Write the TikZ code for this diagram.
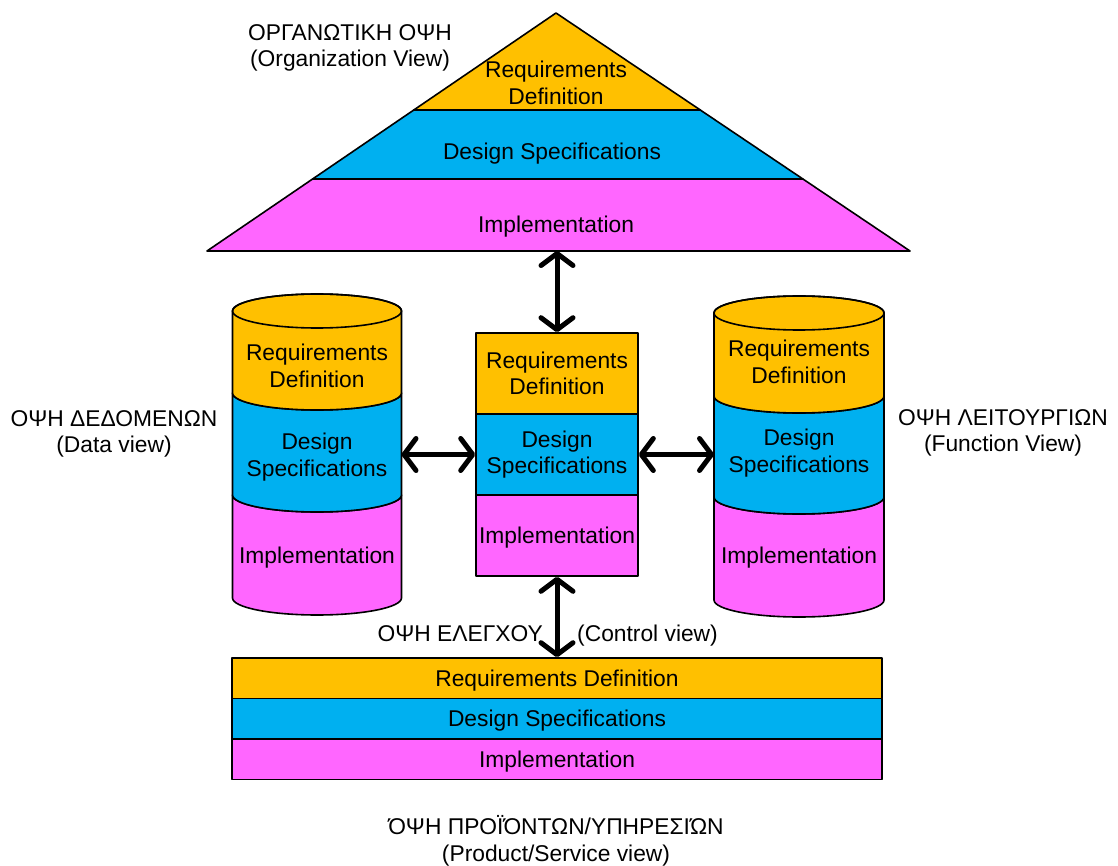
\documentclass[tikz,border=0pt]{standalone}
\usepackage{fontspec}
\setmainfont{Liberation Sans}
\usetikzlibrary{arrows.meta}
\definecolor{reqc}{HTML}{FFC000}
\definecolor{desc}{HTML}{00B0F0}
\definecolor{impc}{HTML}{FF66FF}

\begin{document}
\begin{tikzpicture}[x=1pt,y=-1pt,
  every node/.style={font=\fontsize{22.8}{26.5}\selectfont, align=center, inner sep=0pt},
  oneline/.style={text height=16pt, text depth=0pt},
  outline/.style={draw=black, line width=1.6pt, line join=round},
  bandbox/.style={outline, rectangle, minimum width=#1},
  barb/.tip={Straight Barb[length=12pt,width=32pt,line cap=round,line join=round]},
  link/.style={line width=5pt, line cap=round, barb-barb},
]
\useasboundingbox (0,0) rectangle (1118,866);

% ---- organization pyramid ----
\filldraw[outline, fill=impc] (312.6,179) -- (802.9,179) -- (910,251) -- (207,251) -- cycle;
\filldraw[outline, fill=desc] (413.8,110) -- (700.3,110) -- (802.9,179) -- (312.6,179) -- cycle;
\filldraw[outline, fill=reqc] (556,13) -- (700.3,110) -- (413.8,110) -- cycle;
\node (oReq) at (556,83) {Requirements\\Definition};
\node[oneline] (oDes) at (552,152) {Design Specifications};
\node[oneline] (oImp) at (556,225) {Implementation};
\coordinate (pyrBase) at (556,251);
\node (oLab) at (350,48) {ΟΡΓΑΝΩΤΙΚΗ ΟΨΗ\\(Organization View)};

% ---- data cylinder ----
\filldraw[outline, fill=impc] (232.5,495) -- (232.5,598)
  arc[start angle=180,end angle=0,x radius=84.5,y radius=17] -- (401.5,495)
  arc[start angle=0,end angle=180,x radius=84.5,y radius=17] -- cycle;
\filldraw[outline, fill=desc] (232.5,393) -- (232.5,495)
  arc[start angle=180,end angle=0,x radius=84.5,y radius=17] -- (401.5,393)
  arc[start angle=0,end angle=180,x radius=84.5,y radius=17] -- cycle;
\filldraw[outline, fill=reqc] (232.5,311) -- (232.5,393)
  arc[start angle=180,end angle=0,x radius=84.5,y radius=17] -- (401.5,311)
  arc[start angle=0,end angle=-180,x radius=84.5,y radius=17] -- cycle;
\draw[outline] (317,311) ellipse[x radius=84.5,y radius=17];
\node (dReq) at (317,366) {Requirements\\Definition};
\node (dDes) at (317,457) {Design\\Specifications};
\node[oneline] (dImp) at (317,555) {Implementation};
\coordinate (dataSide) at (401.5,455);
\node (dLab) at (114,434) {ΟΨΗ ΔΕΔΟΜΕΝΩΝ\\(Data view)};

% ---- function cylinder ----
\filldraw[outline, fill=impc] (714,497) -- (714,600)
  arc[start angle=180,end angle=0,x radius=85,y radius=17] -- (884,497)
  arc[start angle=0,end angle=180,x radius=85,y radius=17] -- cycle;
\filldraw[outline, fill=desc] (714,396) -- (714,497)
  arc[start angle=180,end angle=0,x radius=85,y radius=17] -- (884,396)
  arc[start angle=0,end angle=180,x radius=85,y radius=17] -- cycle;
\filldraw[outline, fill=reqc] (714,313) -- (714,396)
  arc[start angle=180,end angle=0,x radius=85,y radius=17] -- (884,313)
  arc[start angle=0,end angle=-180,x radius=85,y radius=17] -- cycle;
\draw[outline] (799,313) ellipse[x radius=85,y radius=17];
\node (fReq) at (799,362) {Requirements\\Definition};
\node (fDes) at (799,453) {Design\\Specifications};
\node[oneline] (fImp) at (799,555) {Implementation};
\coordinate (funcSide) at (714,455);
\node (fLab) at (1003,433) {ΟΨΗ ΛΕΙΤΟΥΡΓΙΩΝ\\(Function View)};

% ---- control box ----
\node[bandbox=162pt, minimum height=81pt, fill=reqc] (cReq) at (557,373.5) {Requirements\\Definition};
\node[bandbox=162pt, minimum height=81pt, fill=desc] (cDes) at (557,454.5) {Design\\Specifications};
\node[bandbox=162pt, minimum height=81pt, fill=impc, oneline] (cImp) at (557,535.5) {Implementation};
\node[anchor=base east] (cLab) at (543,641) {ΟΨΗ ΕΛΕΓΧΟΥ};
\node[anchor=base west] (cLabEn) at (577,641) {(Control view)};

% ---- product/service bar ----
\node[bandbox=650pt, minimum height=40.5pt, fill=reqc, oneline] (pReq) at (557,678.25) {Requirements Definition};
\node[bandbox=650pt, minimum height=40.5pt, fill=desc, oneline] (pDes) at (557,718.75) {Design Specifications};
\node[bandbox=650pt, minimum height=40.5pt, fill=impc, oneline] (pImp) at (557,759.25) {Implementation};
\node (pLab) at (556,841) {ΌΨΗ ΠΡΟΪΌΝΤΩΝ/ΥΠΗΡΕΣΙΏΝ\\(Product/Service view)};

% ---- connectors ----
\draw[link] (cReq.north |- pyrBase) -- (cReq.north);
\draw[link] (cDes.west -| dataSide) -- (cDes.west);
\draw[link] (cDes.east) -- (cDes.east -| funcSide);
\draw[link] (cImp.south) -- (cImp.south |- pReq.north);
\end{tikzpicture}
\end{document}
